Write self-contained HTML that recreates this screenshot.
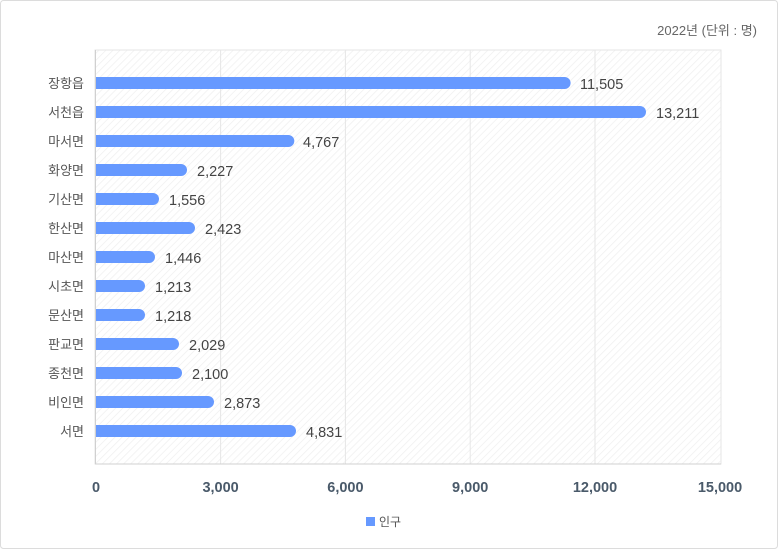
<!DOCTYPE html>
<html><head><meta charset="utf-8"><style>
html,body{margin:0;padding:0;background:#fff}
svg text{font-family:"Liberation Sans","Noto Sans CJK KR",sans-serif}
</style></head><body>
<svg width="778" height="549" viewBox="0 0 778 549" xmlns="http://www.w3.org/2000/svg">
<defs>
<pattern id="h" width="5" height="5" patternUnits="userSpaceOnUse" patternTransform="rotate(45)">
<rect width="5" height="5" fill="#fff"/><line x1="0" y1="0" x2="0" y2="5" stroke="#f0f0f0" stroke-width="1.5"/>
</pattern>
</defs>
<rect x="0.5" y="0.5" width="777" height="548" rx="3" fill="#fff" stroke="#dcdcdc"/>
<text x="757" y="35" font-size="13" fill="#666" text-anchor="end">2022년 (단위 : 명)</text>
<rect x="95" y="50" width="626" height="414" fill="url(#h)" stroke="#e6e6e6"/>
<g stroke="#e6e6e6">
<line x1="220.6" y1="50" x2="220.6" y2="464"/><line x1="345.4" y1="50" x2="345.4" y2="464"/>
<line x1="470.2" y1="50" x2="470.2" y2="464"/><line x1="595" y1="50" x2="595" y2="464"/>
</g>
<line x1="95.5" y1="50" x2="95.5" y2="464" stroke="#d0d0d0"/>
<line x1="95" y1="464" x2="721" y2="464" stroke="#d0d0d0"/>
<g font-size="13" fill="#555" text-anchor="end">
<text x="84" y="88">장항읍</text><text x="84" y="117">서천읍</text><text x="84" y="146">마서면</text>
<text x="84" y="175">화양면</text><text x="84" y="204">기산면</text><text x="84" y="233">한산면</text>
<text x="84" y="262">마산면</text><text x="84" y="291">시초면</text><text x="84" y="320">문산면</text>
<text x="84" y="349">판교면</text><text x="84" y="378">종천면</text><text x="84" y="407">비인면</text>
<text x="84" y="436">서면</text>
</g>
<g fill="#6699ff">
<path d="M96 77h468.6a6 6 0 0 1 0 12H96z"/>
<path d="M96 106h544a6 6 0 0 1 0 12H96z"/>
<path d="M96 135h192.3a6 6 0 0 1 0 12H96z"/>
<path d="M96 164h85a6 6 0 0 1 0 12H96z"/>
<path d="M96 193h57a6 6 0 0 1 0 12H96z"/>
<path d="M96 222h93a6 6 0 0 1 0 12H96z"/>
<path d="M96 251h53a6 6 0 0 1 0 12H96z"/>
<path d="M96 280h43a6 6 0 0 1 0 12H96z"/>
<path d="M96 309h43a6 6 0 0 1 0 12H96z"/>
<path d="M96 338h77a6 6 0 0 1 0 12H96z"/>
<path d="M96 367h80a6 6 0 0 1 0 12H96z"/>
<path d="M96 396h112a6 6 0 0 1 0 12H96z"/>
<path d="M96 425h194a6 6 0 0 1 0 12H96z"/>
</g>
<g font-size="14.5" fill="#444">
<text x="580" y="89">11,505</text><text x="656" y="118">13,211</text><text x="303" y="147">4,767</text>
<text x="197" y="176">2,227</text><text x="169" y="205">1,556</text><text x="205" y="234">2,423</text>
<text x="165" y="263">1,446</text><text x="155" y="292">1,213</text><text x="155" y="321">1,218</text>
<text x="189" y="350">2,029</text><text x="192" y="379">2,100</text><text x="224" y="408">2,873</text>
<text x="306" y="437">4,831</text>
</g>
<g font-size="14.5" fill="#4a5a6a" font-weight="bold" text-anchor="middle">
<text x="96" y="492">0</text><text x="220.6" y="492">3,000</text><text x="345.4" y="492">6,000</text>
<text x="470.2" y="492">9,000</text><text x="595" y="492">12,000</text><text x="720" y="492">15,000</text>
</g>
<rect x="366" y="517" width="9" height="9" fill="#6699ff"/>
<text x="379" y="526" font-size="12" fill="#555">인구</text>
</svg>
</body></html>
